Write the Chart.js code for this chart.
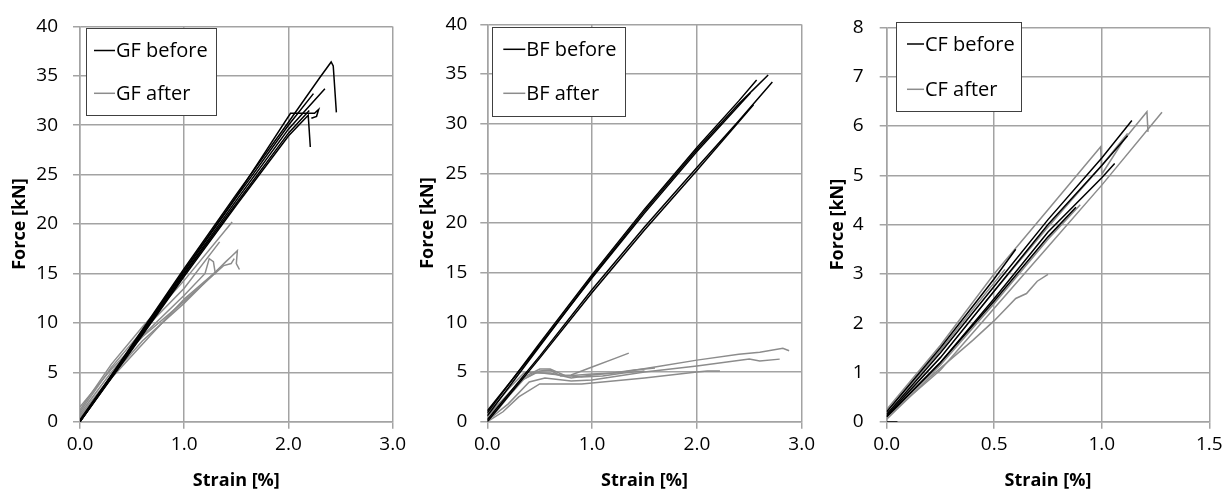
<html>
<head>
<meta charset="UTF-8" />
<title>Force vs strain - GF / BF / CF</title>
<style type="text/css">
    body { margin: 0; background: #fff; }
    .panel { position: absolute; top: 0; width: 410px; height: 492px; }
</style>
</head>
<body>
<div class="panel" style="left:0px"><canvas id="gfChart" width="410" height="492"></canvas></div>
<div class="panel" style="left:410px"><canvas id="bfChart" width="410" height="492"></canvas></div>
<div class="panel" style="left:820px"><canvas id="cfChart" width="410" height="492"></canvas></div>

<script src="https://cdn.jsdelivr.net/npm/chart.js"></script>
<script>
// ---- data (strain %, force kN) ----
const gfBefore = [
    [[0,0],[0.5,7.8],[1.0,15.5],[1.5,23.0],[2.0,30.3],[2.3,34.8],[2.41,36.4],[2.43,36.0],[2.46,31.3]],
    [[0,0],[0.5,7.5],[1.0,15.0],[1.5,22.4],[2.0,29.6],[2.35,33.7]],
    [[0,0.1],[0.5,7.6],[1.0,15.2],[1.5,22.7],[2.0,30.0],[2.24,33.2]],
    [[0,0],[0.5,7.3],[1.0,14.7],[1.5,21.9],[2.0,28.9],[2.19,31.0],[2.21,27.8]],
    [[0,0.2],[0.5,7.7],[1.0,15.3],[1.5,22.8],[2.02,31.2],[2.25,31.2],[2.29,31.6],[2.27,30.9],[2.22,30.7]],
    [[0,0],[0.5,7.4],[1.0,14.9],[1.5,22.1],[2.0,29.2],[2.2,31.5]]
];
const gfAfter = [
    [[0,1.2],[0.3,5.8],[0.6,9.6],[1.0,14.3],[1.46,20.2]],
    [[0,1.0],[0.3,5.5],[0.6,9.2],[1.0,13.5],[1.34,18.2]],
    [[0,0.8],[0.3,5.0],[0.6,8.7],[1.0,12.8],[1.2,15.0],[1.24,16.5],[1.28,16.2],[1.30,14.9]],
    [[0,0.6],[0.3,4.6],[0.6,8.2],[1.0,12.0],[1.4,16.2],[1.46,16.8],[1.51,17.3],[1.50,16.0],[1.53,15.4]],
    [[0,1.5],[0.3,5.3],[0.6,8.6],[1.0,12.2],[1.38,15.8],[1.45,16.0],[1.48,16.5]],
    [[0,0.4],[0.3,4.4],[0.7,9.0],[1.0,12.4],[1.35,15.6]]
];

const bfBefore = [
    [[0,0.9],[0.5,7.9],[1.0,14.8],[1.5,21.4],[2.0,27.6],[2.4,32.3],[2.57,34.4]],
    [[0,0.6],[0.5,7.6],[1.0,14.6],[1.5,21.2],[2.0,27.4],[2.4,32.0],[2.68,34.9]],
    [[0,0.2],[0.5,6.6],[1.0,13.3],[1.5,19.6],[2.0,25.6],[2.4,30.3],[2.72,34.2]],
    [[0,0],[0.5,6.4],[1.0,13.0],[1.5,19.3],[2.0,25.3],[2.54,31.9]],
    [[0,1.1],[0.5,7.7],[1.0,14.5],[1.5,21.0],[2.0,27.2],[2.51,33.1]]
];
const bfAfter = [
    [[0,0.3],[0.1,1.2],[0.2,2.5],[0.35,4.3],[0.5,5.1],[0.6,5.2],[0.7,4.6],[0.8,4.7],[1.0,5.5],[1.2,6.3],[1.35,6.9]],
    [[0,0.5],[0.15,2.0],[0.3,4.0],[0.45,4.9],[0.6,4.9],[0.8,4.4],[1.0,4.7],[1.3,5.0],[1.6,5.5],[2.0,6.2],[2.4,6.8],[2.6,7.0],[2.82,7.4],[2.88,7.15]],
    [[0,0.1],[0.2,1.8],[0.4,4.0],[0.55,4.4],[0.8,4.1],[1.0,4.2],[1.5,5.0],[2.0,5.6],[2.5,6.3],[2.6,6.1],[2.79,6.3]],
    [[0,0],[0.15,1.0],[0.3,2.5],[0.5,3.8],[0.7,3.8],[0.9,3.8],[1.2,4.1],[1.5,4.4],[2.0,5.0],[2.1,5.1],[2.22,5.1]],
    [[0,0.6],[0.2,2.8],[0.35,4.5],[0.5,5.3],[0.6,5.3],[0.75,4.6],[1.0,4.8],[1.2,4.9],[1.4,5.2],[1.6,5.4]],
    [[0,0.8],[0.2,3.3],[0.35,4.9],[0.45,5.0],[0.6,4.8],[0.9,4.5],[1.1,4.6],[1.3,4.9],[1.5,5.1]]
];

const cfBefore = [
    [[0,0.15],[0.25,1.4],[0.5,2.75],[0.75,4.1],[1.0,5.35],[1.14,6.11]],
    [[0,0.1],[0.25,1.2],[0.5,2.5],[0.75,3.85],[1.0,4.95],[1.06,5.24]],
    [[0,0.2],[0.25,1.5],[0.5,2.9],[0.6,3.5]],
    [[0,0.1],[0.25,1.2],[0.5,2.45],[0.75,3.75],[0.88,4.35]],
    [[0,0.12],[0.25,1.3],[0.5,2.65],[0.75,4.0],[1.0,5.2],[1.12,5.8]],
    [[0,0],[0.05,0]]
];
const cfAfter = [
    [[0,0.25],[0.25,1.55],[0.5,3.0],[0.75,4.3],[0.995,5.58],[1.0,5.02],[1.1,5.7],[1.21,6.29],[1.215,5.88]],
    [[0,0.1],[0.25,1.05],[0.5,2.3],[0.75,3.55],[1.0,4.8],[1.28,6.28]],
    [[0,0.05],[0.2,0.9],[0.4,1.65],[0.5,2.05],[0.6,2.5],[0.65,2.6],[0.7,2.85],[0.75,2.99]],
    [[0,0.2],[0.25,1.45],[0.45,2.55],[0.55,3.09]],
    [[0,0.15],[0.25,1.3],[0.5,2.65],[0.75,3.95],[1.0,5.2],[1.12,5.85]],
    [[0,0.1],[0.25,1.15],[0.5,2.4],[0.75,3.7],[0.9,4.4]]
];

const strainTicks3 = [0, 1, 2, 3];
const strainTicks15 = [0, 0.5, 1, 1.5];
const forceTicks40 = [0, 5, 10, 15, 20, 25, 30, 35, 40];
const forceTicks8 = [0, 1, 2, 3, 4, 5, 6, 7, 8];

const gfLabels = ['GF before', 'GF after'];
const bfLabels = ['BF before', 'BF after'];
const cfLabels = ['CF before', 'CF after'];

// ---- drawing ----
const GRID = '#a3a3a3';
const FONT = '"Open Sans", "Liberation Sans", sans-serif';

const boxLegend = {
    id: 'boxLegend',
    afterDraw(chart, args, o) {
        const c = chart.ctx;
        c.save();
        c.fillStyle = '#fff';
        c.fillRect(o.x, o.y, o.w, o.h);
        c.strokeStyle = '#404040';
        c.lineWidth = 1;
        c.strokeRect(o.x + 0.5, o.y + 0.5, o.w, o.h);
        c.font = '20px ' + FONT;
        c.textBaseline = 'middle';
        o.labels.forEach((txt, i) => {
            const y = o.rows[i];
            c.strokeStyle = i === 0 ? '#000' : '#8c8c8c';
            c.lineWidth = 1.5;
            c.beginPath();
            c.moveTo(o.lineX, y);
            c.lineTo(o.lineX + o.lineW, y);
            c.stroke();
            c.fillStyle = '#000';
            c.fillText(txt, o.lineX + o.lineW + 1, y + 1);
        });
        c.restore();
    }
};

function toPts(curve) {
    return curve.map(p => ({x: p[0], y: p[1]}));
}

function makeChart(id, before, after, labels, xTicks, yTicks, lay) {
    const datasets = [];
    before.forEach(c => datasets.push({data: toPts(c), borderColor: '#000', borderWidth: 1.5}));
    after.forEach(c => datasets.push({data: toPts(c), borderColor: '#8c8c8c', borderWidth: 1.5}));
    datasets.forEach(d => { d.showLine = true; d.pointRadius = 0; d.tension = 0; d.fill = false; });

    return new Chart(document.getElementById(id), {
        type: 'scatter',
        data: {datasets: datasets},
        plugins: [boxLegend],
        options: {
            responsive: false,
            animation: false,
            devicePixelRatio: 1,
            layout: {padding: {top: lay.top, right: lay.right, left: 0, bottom: 0}},
            plugins: {
                legend: {display: false},
                tooltip: {enabled: false},
                boxLegend: lay.legend
            },
            scales: {
                x: {
                    type: 'linear',
                    min: xTicks[0], max: xTicks[xTicks.length - 1],
                    afterBuildTicks: s => { s.ticks = xTicks.map(v => ({value: v})); },
                    afterFit: s => { s.height = 492 - lay.bottom; },
                    grid: {color: GRID, lineWidth: 1.5, tickLength: 7, tickColor: GRID},
                    border: {color: GRID, width: 1.5},
                    ticks: {color: '#000', font: {family: FONT, size: 19}, padding: 4,
                            maxRotation: 0, callback: v => v.toFixed(1)},
                    title: {display: true, text: 'Strain [%]', color: '#000',
                            font: {family: FONT, size: 18, weight: 'bold'}, padding: {top: 0, bottom: 0}}
                },
                y: {
                    type: 'linear',
                    min: yTicks[0], max: yTicks[yTicks.length - 1],
                    afterBuildTicks: s => { s.ticks = yTicks.map(v => ({value: v})); },
                    afterFit: s => { s.width = lay.left; },
                    grid: {color: GRID, lineWidth: 1.5, tickLength: 7, tickColor: GRID},
                    border: {color: GRID, width: 1.5},
                    ticks: {color: '#000', font: {family: FONT, size: 19}, padding: lay.tickPad},
                    title: {display: true, text: 'Force [kN]', color: '#000',
                            font: {family: FONT, size: 18, weight: 'bold'}, padding: {top: lay.titlePad, bottom: 0}}
                }
            }
        }
    });
}

makeChart('gfChart', gfBefore, gfAfter, gfLabels, strainTicks3, forceTicks40, {
    left: 80, right: 15, top: 21, bottom: 421.7, tickPad: 15, titlePad: 9,
    legend: {x: 86, y: 28, w: 130, h: 87, lineX: 94, lineW: 21, rows: [50.5, 93.3], labels: gfLabels}
});
makeChart('bfChart', bfBefore, bfAfter, bfLabels, strainTicks3, forceTicks40, {
    left: 77.3, right: 18.3, top: 21, bottom: 421.7, tickPad: 13, titlePad: 7,
    legend: {x: 82, y: 27, w: 133, h: 89, lineX: 93.3, lineW: 22, rows: [49.3, 93.3], labels: bfLabels}
});
makeChart('cfChart', cfBefore, cfAfter, cfLabels, strainTicks15, forceTicks8, {
    left: 66.7, right: 20.7, top: 15.7, bottom: 421.7, tickPad: 16, titlePad: 7,
    legend: {x: 76, y: 22, w: 125, h: 89, lineX: 87, lineW: 17, rows: [44, 89.3], labels: cfLabels}
});
</script>
</body>
</html>
